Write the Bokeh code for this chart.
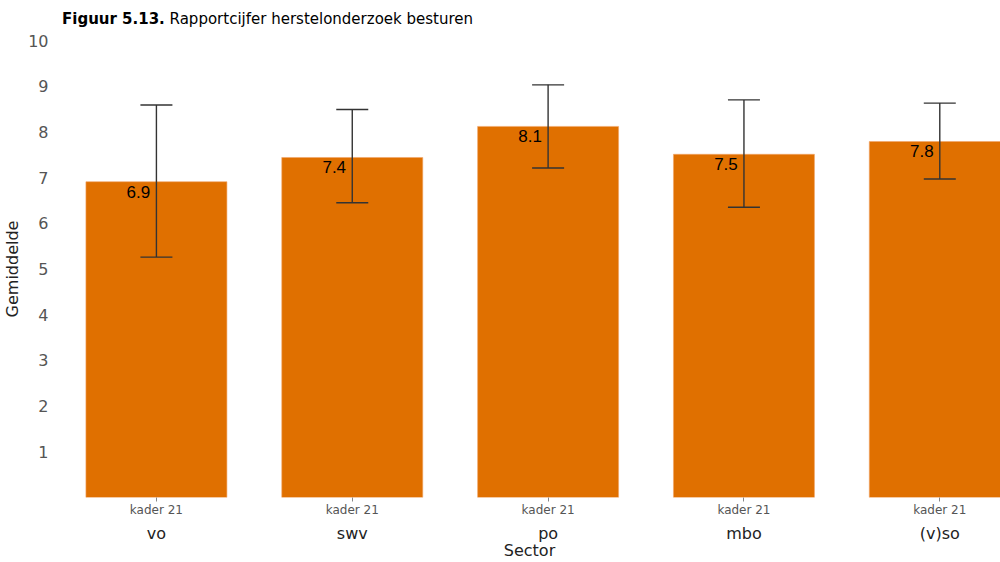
from bokeh.plotting import figure
from bokeh.models import (ColumnDataSource, FixedTicker, LinearAxis, Range1d, Div)
from bokeh.layouts import column
from bokeh.core.properties import value
from bokeh.embed import file_html
from bokeh.resources import INLINE

sectors = ["vo", "swv", "po", "mbo", "(v)so"]
subgroup = ["kader 21", "kader 21", "kader 21", "kader 21", "kader 21"]
means = [6.91, 7.44, 8.12, 7.51, 7.79]
upper = [8.59, 8.49, 9.03, 8.70, 8.63]
lower = [5.26, 6.45, 7.21, 6.35, 6.97]
labels = ["6.9", "7.4", "8.1", "7.5", "7.8"]
y_ticks = [1, 2, 3, 4, 5, 6, 7, 8, 9, 10]
x_title = "Sector"
y_title = "Gemiddelde"

xpos = list(range(len(sectors)))
src = ColumnDataSource(dict(x=xpos, mean=means, upper=upper, lower=lower, label=labels))

FONT = "DejaVu Sans"
ORANGE = "#E07000"
ERR = "#333333"

title = Div(
    text='<span style="font-weight:bold">Figuur 5.13.</span> Rapportcijfer herstelonderzoek besturen',
    width=1000, height=32, margin=(0, 0, 0, 0),
    styles={"font-family": FONT, "font-size": "15px", "color": "#000",
            "padding-left": "62px", "padding-top": "10px", "line-height": "18px",
            "white-space": "nowrap"},
)

p = figure(width=1000, height=530, output_backend="svg", toolbar_location=None,
           x_range=Range1d(-0.5, 4.31), y_range=Range1d(0, 10),
           min_border_left=58, min_border_right=0, min_border_top=8,
           min_border_bottom=60)
p.outline_line_color = None
p.xgrid.visible = False
p.ygrid.visible = False
p.background_fill_color = "white"

p.vbar(x="x", top="mean", bottom=0, width=0.72, source=src,
       fill_color=ORANGE, line_color="#F2A66A", line_width=0.6)

# error bars drawn on top of bars
p.segment(x0="x", y0="lower", x1="x", y1="upper", source=src,
          line_color=ERR, line_width=1.4)
p.scatter(x="x", y="upper", source=src, marker="dash", size=32,
          line_color=ERR, line_width=1.4)
p.scatter(x="x", y="lower", source=src, marker="dash", size=32,
          line_color=ERR, line_width=1.4)

p.text(x="x", y="mean", text="label", source=src, x_offset=-18, y_offset=10,
       text_align="center", text_baseline="middle", text_color="black",
       text_font=value("Liberation Sans"), text_font_size="17px")

# y axis
ya = p.yaxis[0]
ya.ticker = FixedTicker(ticks=y_ticks)
ya.axis_line_color = None
ya.major_tick_line_color = None
ya.minor_tick_line_color = None
ya.major_label_text_font = FONT
ya.major_label_text_font_size = "16px"
ya.major_label_text_color = "#555555"
ya.major_label_standoff = 4
ya.axis_label = y_title
ya.axis_label_text_font = FONT
ya.axis_label_text_font_size = "16px"
ya.axis_label_text_font_style = "normal"
ya.axis_label_text_color = "#222222"
ya.axis_label_standoff = 3

# x axis, first level: subgroup
xa = p.xaxis[0]
xa.ticker = FixedTicker(ticks=xpos)
xa.major_label_overrides = {i: s for i, s in zip(xpos, subgroup)}
xa.axis_line_color = None
xa.major_tick_line_color = "#888888"
xa.major_tick_in = 0
xa.major_tick_out = 4
xa.minor_tick_line_color = None
xa.major_label_standoff = 1
xa.major_label_text_font = FONT
xa.major_label_text_font_size = "12px"
xa.major_label_text_color = "#555555"

# x axis, second level: sector
xa2 = LinearAxis(ticker=FixedTicker(ticks=xpos),
                 major_label_overrides={i: s for i, s in zip(xpos, sectors)})
xa2.axis_line_color = None
xa2.major_tick_line_color = None
xa2.major_tick_out = 0
xa2.major_tick_in = 0
xa2.minor_tick_line_color = None
xa2.major_label_standoff = 4
xa2.major_label_text_font = FONT
xa2.major_label_text_font_size = "16px"
xa2.major_label_text_color = "#222222"
p.add_layout(xa2, "below")

# x-axis title on its own (tick-less) axis
xa3 = LinearAxis(ticker=FixedTicker(ticks=[]), axis_label=x_title)
xa3.axis_line_color = None
xa3.major_tick_line_color = None
xa3.major_tick_out = 0
xa3.major_tick_in = 0
xa3.minor_tick_line_color = None
xa3.major_label_standoff = 0
xa3.major_label_text_font_size = "0px"
xa3.axis_label_standoff = -5
xa3.axis_label_text_font = FONT
xa3.axis_label_text_font_size = "16px"
xa3.axis_label_text_font_style = "normal"
xa3.axis_label_text_color = "#222222"
p.add_layout(xa3, "below")

layout = column(title, p, spacing=0)
open("out.html", "w").write(file_html(layout, INLINE))
